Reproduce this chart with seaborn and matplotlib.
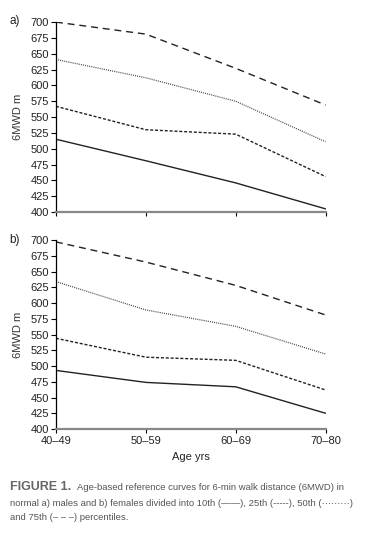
import pandas as pd
import matplotlib
matplotlib.use("Agg")
import matplotlib.pyplot as plt
import seaborn as sns

age_groups = ["40\u201349", "50\u201359", "60\u201369", "70\u201380"]
percentiles = ["10th", "25th", "50th", "75th"]

male_10 = [515, 481, 446, 405]
male_25 = [567, 530, 523, 456]
male_50 = [641, 612, 575, 511]
male_75 = [700, 681, 627, 569]

female_10 = [493, 474, 467, 425]
female_25 = [544, 514, 509, 462]
female_50 = [634, 589, 563, 519]
female_75 = [697, 665, 628, 581]

yticks = list(range(400, 701, 25))

sns.set_style("white")
plt.rcParams["font.family"] = ["Liberation Sans", "DejaVu Sans"]

styles = {
    "10th": dict(ls="-", lw=1.0, color="#222222"),
    "25th": dict(ls=(0, (2.2, 1.3)), lw=1.0, color="#222222"),
    "50th": dict(ls=(0, (0.8, 0.9)), lw=0.9, color="#444444"),
    "75th": dict(ls=(0, (5, 3.5)), lw=1.0, color="#222222"),
}


def make_df(series):
    rows = []
    for p, vals in zip(percentiles, series):
        for i, v in enumerate(vals):
            rows.append({"pos": i, "age": age_groups[i], "pct": p, "m": v})
    return pd.DataFrame(rows)


def panel(ax, df, show_xlabels):
    for p in percentiles:
        sub = df[df["pct"] == p]
        st = styles[p]
        sns.lineplot(data=sub, x="pos", y="m", ax=ax, color=st["color"],
                     lw=st["lw"], linestyle=st["ls"], legend=False)
    ax.set_xlim(0, 3)
    ax.set_ylim(400, 700)
    ax.set_yticks(yticks)
    ax.set_yticklabels([str(t) for t in yticks], fontsize=8, color="#222222")
    ax.set_xticks(range(4))
    if show_xlabels:
        ax.set_xticklabels(age_groups, fontsize=8, color="#222222")
        ax.set_xlabel("Age yrs", fontsize=8, color="#222222", labelpad=4)
    else:
        ax.set_xticklabels([])
        ax.set_xlabel("")
    ax.set_ylabel("6MWD m", fontsize=8, color="#333333", labelpad=5)
    for s in ["top", "right"]:
        ax.spines[s].set_visible(False)
    ax.spines["left"].set_color("black")
    ax.spines["left"].set_linewidth(0.9)
    ax.spines["bottom"].set_color("#888888")
    ax.spines["bottom"].set_linewidth(1.6)
    ax.tick_params(axis="y", direction="out", length=3.5, width=0.8,
                   color="black", pad=1.5, left=True)
    ax.tick_params(axis="x", direction="out", length=3, width=0.8,
                   color="black", pad=2, bottom=True)


fig = plt.figure(figsize=(3.83, 5.35), dpi=100)
ax_a = fig.add_axes([0.146, 0.6037, 0.704, 0.355])
ax_b = fig.add_axes([0.146, 0.1981, 0.704, 0.3533])

panel(ax_a, make_df([male_10, male_25, male_50, male_75]), False)
panel(ax_b, make_df([female_10, female_25, female_50, female_75]), True)

fig.text(9 / 383, 1 - 21 / 535, "a)", fontsize=8.5, color="#222222",
         ha="left", va="center")
fig.text(9 / 383, 1 - 240 / 535, "b)", fontsize=8.5, color="#222222",
         ha="left", va="center")

cap_color = "#555555"
fig.text(10 / 383, 1 - 487 / 535, "FIGURE 1.", fontsize=9, weight="bold",
         color="#666666", va="center", ha="left")
fig.text(77 / 383, 1 - 487 / 535,
         "Age-based reference curves for 6-min walk distance (6MWD) in",
         fontsize=6.8, color=cap_color, va="center", ha="left")
fig.text(10 / 383, 1 - 503 / 535,
         "normal a) males and b) females divided into 10th (\u2014\u2014), "
         "25th (-----), 50th (\u00b7\u00b7\u00b7\u00b7\u00b7\u00b7\u00b7\u00b7\u00b7)",
         fontsize=6.8, color=cap_color, va="center", ha="left")
fig.text(10 / 383, 1 - 518 / 535, "and 75th (\u2013 \u2013 \u2013) percentiles.",
         fontsize=6.8, color=cap_color, va="center", ha="left")

fig.savefig("out.png", dpi=100)
